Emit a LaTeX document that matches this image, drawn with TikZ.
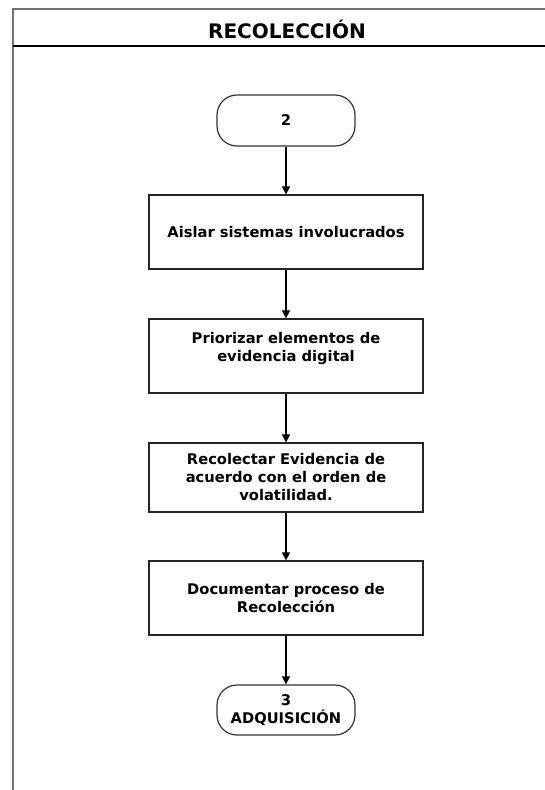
\documentclass[tikz,border=0pt]{standalone}
\usepackage{fontspec}
\setmainfont{DejaVu Sans}
\usetikzlibrary{arrows.meta}
\begin{document}
\begin{tikzpicture}[x=1pt,y=-1pt,
  txt/.style={font=\fontsize{14.7}{18}\selectfont\bfseries, align=center, text=black},
  proc/.style={txt, draw=black!85, line width=1.2pt, minimum width=274pt, inner sep=0pt},
  term/.style={txt, draw=black!80, line width=1.2pt, rounded corners=20pt, minimum width=138pt, inner sep=0pt},
  flow/.style={draw=black, line width=1.1pt, -{Triangle[length=8pt,width=8pt]}}
]
\useasboundingbox (0,0) rectangle (545,790);
\fill[white] (0,0) rectangle (545,790);
% frame
\coordinate (fbl) at (13,790);
\coordinate (ftl) at (13,9);
\coordinate (ftr) at (546,9);
\coordinate (hl) at (13,46);
\coordinate (hr) at (546,46);
\draw[black!55, line width=2pt] (fbl) -- (ftl) -- (ftr);
\draw[black, line width=1.4pt] (hl) -- (hr);
\node[font=\fontsize{20}{24}\selectfont\bfseries] (title) at (287,29) {RECOLECCIÓN};
% nodes
\node[term, minimum height=51pt] (t2) at (286,120.5) {2};
\node[proc, minimum height=74pt] (b1) at (286,232) {Aislar sistemas involucrados};
\node[proc, minimum height=74pt] (b2) at (286,356) {Priorizar elementos de\\evidencia digital\\\mbox{}};
\node[proc, minimum height=69pt] (b3) at (286,477.5) {Recolectar Evidencia de\\acuerdo con el orden de\\volatilidad.};
\node[proc, minimum height=74pt] (b4) at (286,598) {Documentar proceso de\\Recolección};
\node[term, minimum height=50pt] (t3) at (286,710) {3\\ADQUISICIÓN};
% connectors
\draw[flow] (t2) -- (b1);
\draw[flow] (b1) -- (b2);
\draw[flow] (b2) -- (b3);
\draw[flow] (b3) -- (b4);
\draw[flow] (b4) -- (t3);
\end{tikzpicture}
\end{document}
